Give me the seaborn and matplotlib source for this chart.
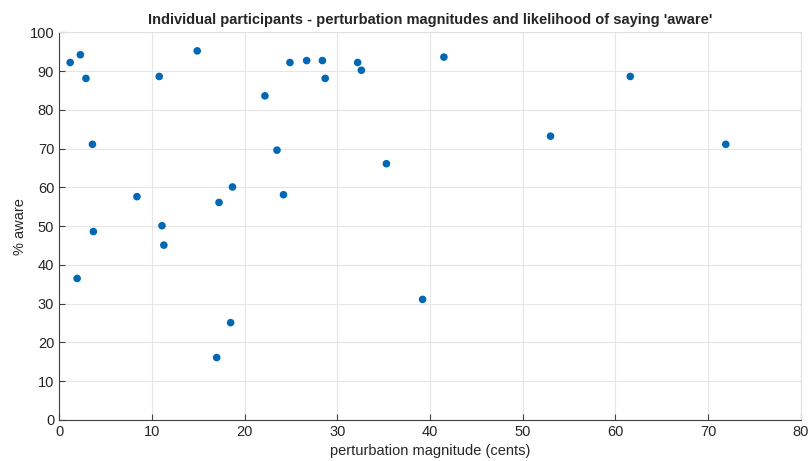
import matplotlib
matplotlib.use('Agg')
import pandas as pd
import seaborn as sns
import matplotlib.pyplot as plt

# Werte
magnitude = [1.2, 2.3, 2.9, 3.6, 3.7, 1.95, 8.4, 10.8, 11.1, 11.3,
             14.9, 17.25, 17.0, 18.5, 18.7, 22.2, 23.5, 24.2, 24.9, 26.7,
             28.4, 28.7, 32.2, 32.6, 35.3, 39.2, 41.5, 53.0, 61.6, 71.9]
aware = [92.2, 94.2, 88.1, 71.1, 48.6, 36.5, 57.6, 88.6, 50.1, 45.1,
         95.2, 56.1, 16.1, 25.1, 60.1, 83.6, 69.6, 58.1, 92.2, 92.7,
         92.7, 88.1, 92.2, 90.2, 66.1, 31.1, 93.6, 73.2, 88.6, 71.1]
x_ticks = [0, 10, 20, 30, 40, 50, 60, 70, 80]
y_ticks = [0, 10, 20, 30, 40, 50, 60, 70, 80, 90, 100]

df = pd.DataFrame({'magnitude': magnitude, 'aware': aware})

sns.set_style('whitegrid')
plt.rcParams['font.family'] = ['Liberation Sans', 'DejaVu Sans']

fig = plt.figure(figsize=(8.09, 4.61), dpi=100)
ax = fig.add_axes([0.073, 0.089, 0.917, 0.841])

sns.scatterplot(x='magnitude', y='aware', data=df, color='#0068B5',
                s=30, edgecolor='none', ax=ax, zorder=3)

ax.set_xlim(0, 80)
ax.set_ylim(0, 100)
ax.set_xticks(x_ticks)
ax.set_yticks(y_ticks)
ax.grid(True, color='#e6e6e6', linewidth=0.8)

for side in ['left', 'bottom']:
    ax.spines[side].set_color('#404040')
    ax.spines[side].set_linewidth(0.8)
for side in ['top', 'right']:
    ax.spines[side].set_color('#e0e0e0')
    ax.spines[side].set_linewidth(0.8)

ax.tick_params(axis='both', direction='in', length=4, width=0.8,
               color='#404040', labelsize=10.5, labelcolor='#262626',
               bottom=True, left=True)

ax.set_xlabel('perturbation magnitude (cents)', fontsize=10.5, color='#262626')
ax.set_ylabel('% aware', fontsize=10.5, color='#262626', labelpad=2)
ax.set_title("Individual participants - perturbation magnitudes and likelihood of saying 'aware'",
             fontsize=10.5, fontweight='bold', pad=6)

plt.savefig('out.png', dpi=100)
